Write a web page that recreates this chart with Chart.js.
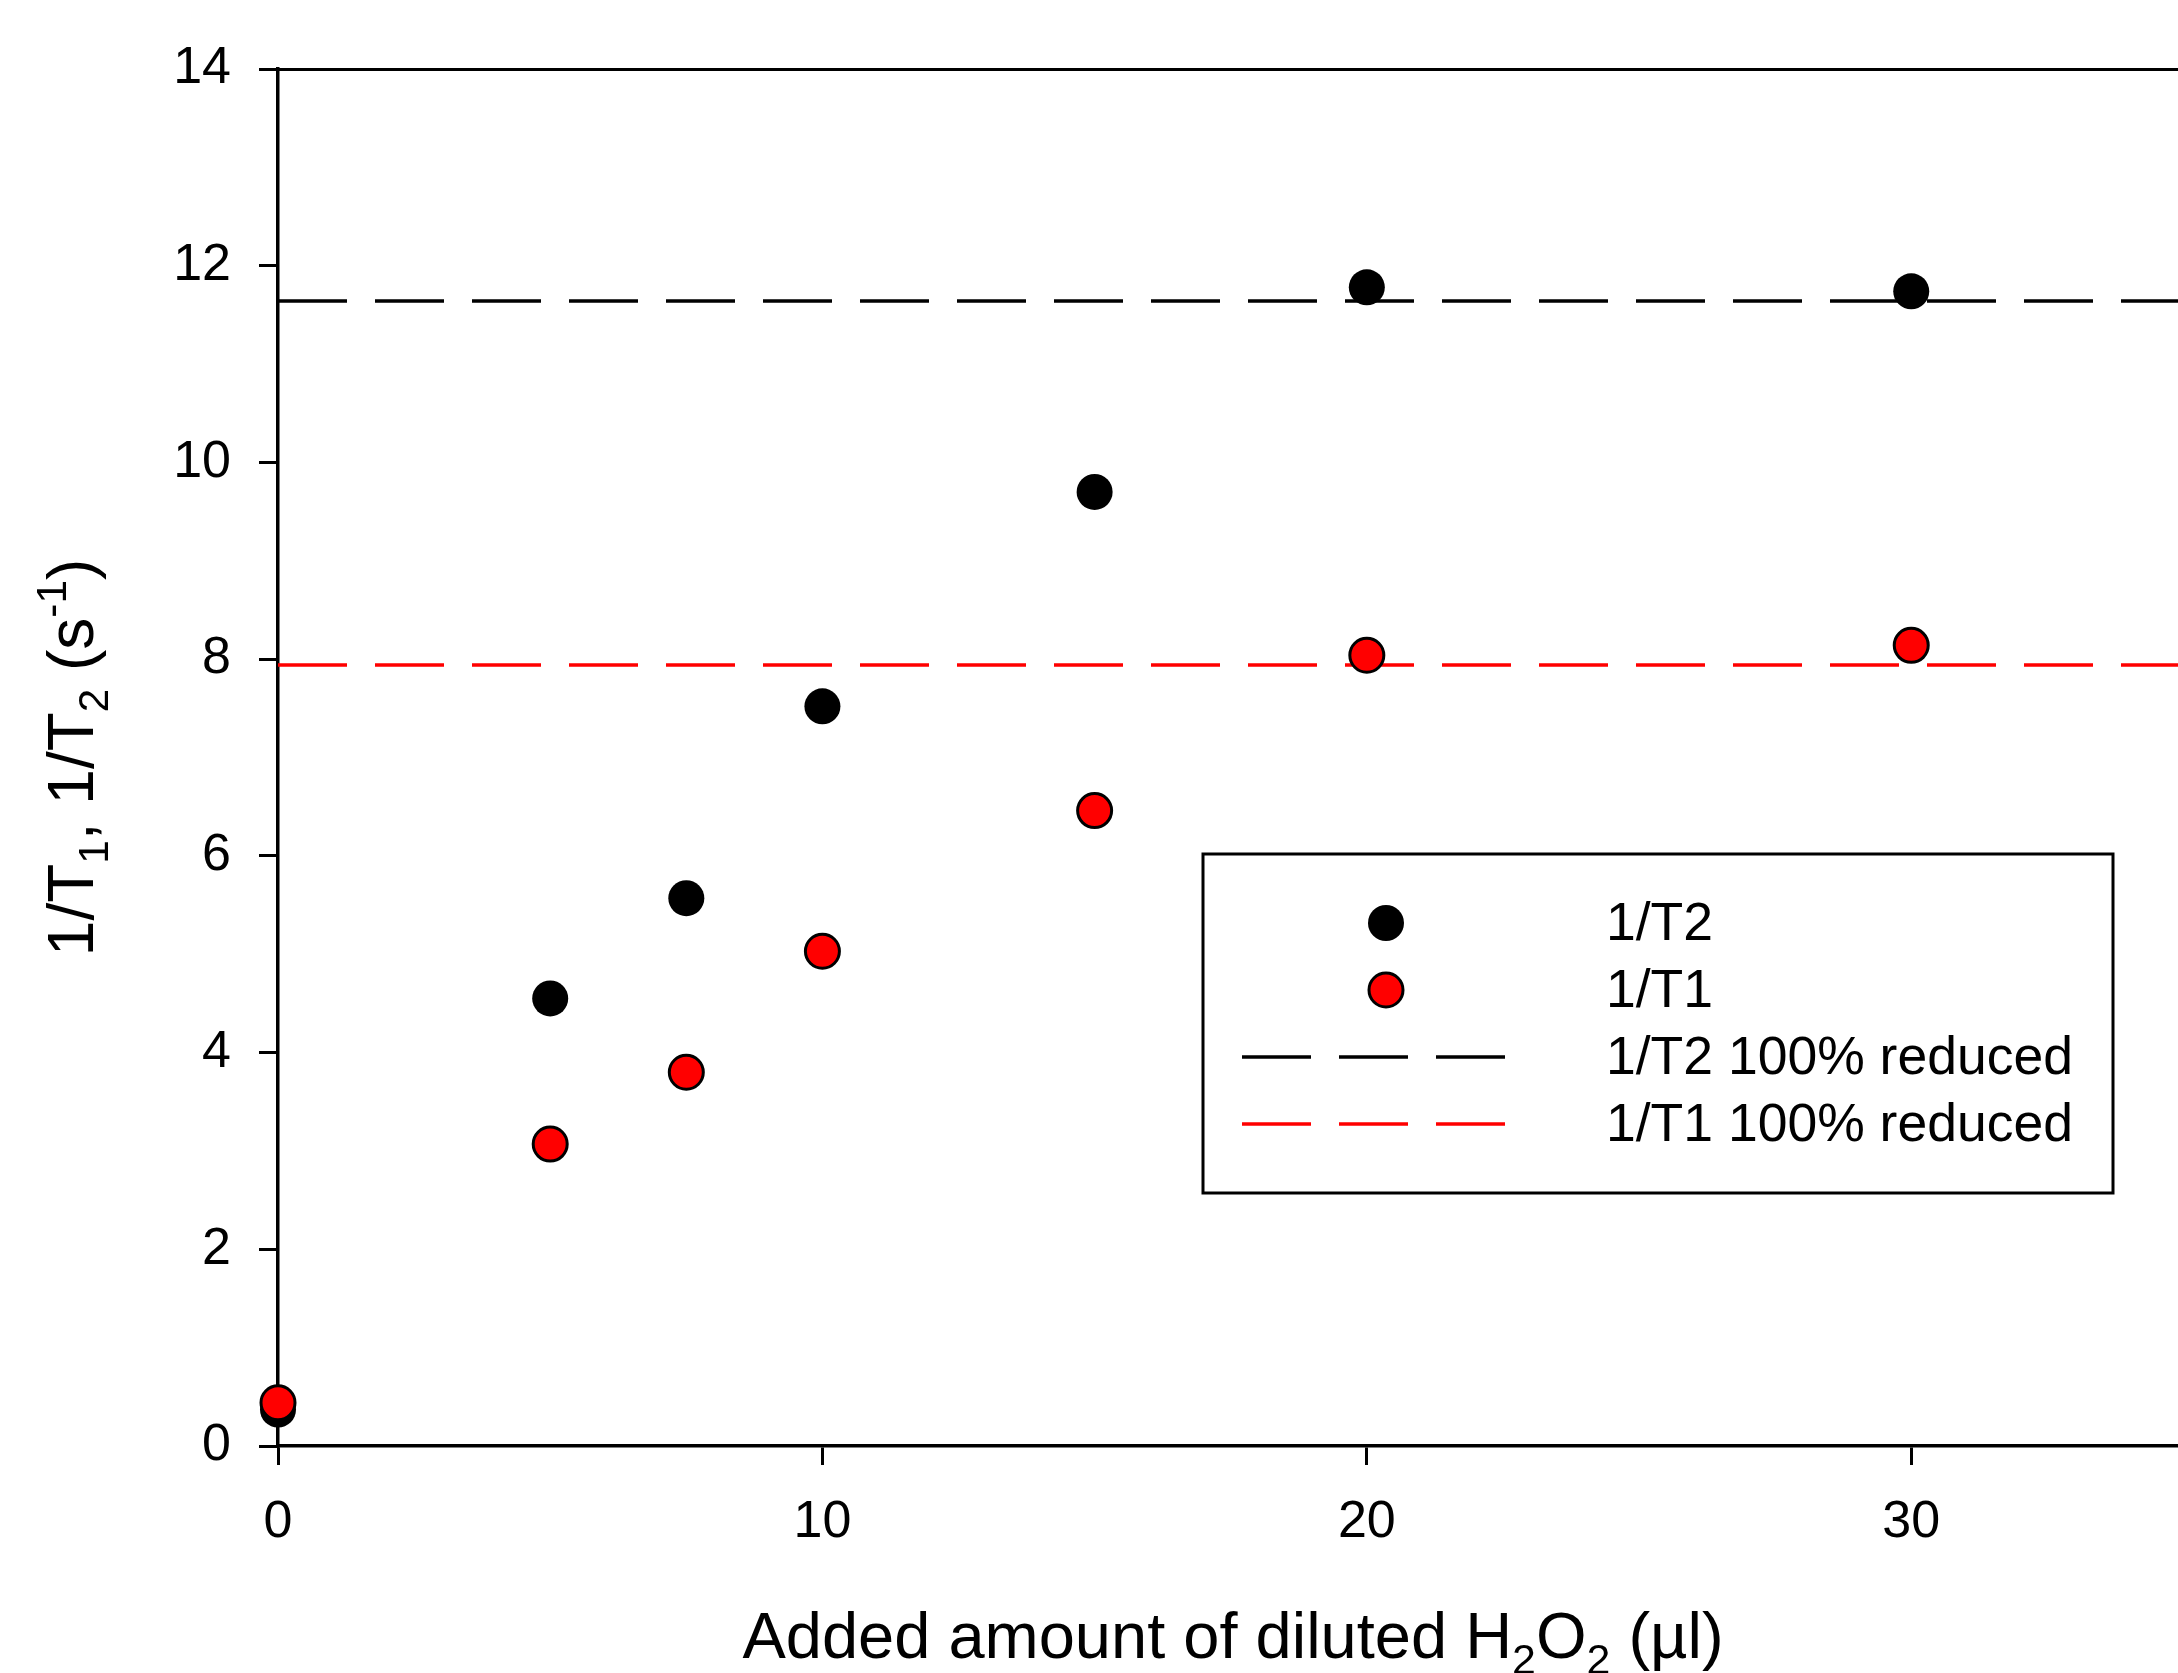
<!DOCTYPE html>
<html>
<head>
<meta charset="utf-8">
<script src="https://cdn.jsdelivr.net/npm/chart.js@4/dist/chart.umd.min.js"></script>
<style>
  html, body { margin: 0; padding: 0; background: #fff; }
  canvas { display: block; }
</style>
</head>
<body>
<canvas id="relaxChart" width="2178" height="1673"></canvas>
<script>
// values
const addedVolume = [0, 5, 7.5, 10, 15, 20, 30];
const invT2 = [0.37, 4.55, 5.57, 7.52, 9.70, 11.78, 11.74];
const invT1 = [0.44, 3.07, 3.80, 5.03, 6.46, 8.04, 8.14];
const reducedT2 = 11.64;
const reducedT1 = 7.94;
const xRange = [0, 34.9];   // the original figure is cut off just before 35
const yRange = [0, 14];
const xStep = 10;
const yStep = 2;

const FONT = '"Liberation Sans", Arial, Helvetica, sans-serif';
const RED = '#ff0000';

const pts = ys => addedVolume.map((x, i) => ({ x: x, y: ys[i] }));
const flat = v => xRange.map(x => ({ x: x, y: v }));

// draws text pieces with sub / superscripts, centred on x=0, baseline 0
function drawRich(ctx, parts, size) {
  let w = 0;
  parts.forEach(p => {
    ctx.font = (p.s ? size * 0.66 : size) + 'px ' + FONT;
    p.w = ctx.measureText(p.t).width;
    w += p.w;
  });
  let x = -w / 2;
  parts.forEach(p => {
    ctx.font = (p.s ? size * 0.66 : size) + 'px ' + FONT;
    const dy = p.s === 'sub' ? size * 0.24 : p.s === 'sup' ? -size * 0.42 : 0;
    ctx.fillText(p.t, x, dy);
    x += p.w;
  });
}

const axisTitles = {
  id: 'axisTitles',
  afterDraw(chart) {
    const { ctx, chartArea } = chart;
    ctx.save();
    ctx.fillStyle = '#000';
    ctx.textBaseline = 'alphabetic';
    ctx.textAlign = 'left';
    ctx.translate((chartArea.left + chartArea.right) / 2 + 5, 1658);
    drawRich(ctx, [
      { t: 'Added amount of diluted H' }, { t: '2', s: 'sub' },
      { t: 'O' }, { t: '2', s: 'sub' }, { t: ' (\u00b5l)' }
    ], 65);
    ctx.restore();

    ctx.save();
    ctx.fillStyle = '#000';
    ctx.textBaseline = 'alphabetic';
    ctx.textAlign = 'left';
    ctx.translate(93, (chartArea.top + chartArea.bottom) / 2);
    ctx.rotate(-Math.PI / 2);
    drawRich(ctx, [
      { t: '1/T' }, { t: '1', s: 'sub' }, { t: ', 1/T' }, { t: '2', s: 'sub' },
      { t: ' (s' }, { t: '-1', s: 'sup' }, { t: ')' }
    ], 64);
    ctx.restore();
  }
};

const boxLegend = {
  id: 'boxLegend',
  afterDraw(chart) {
    const ctx = chart.ctx;
    const box = { l: 1203, t: 854, r: 2113, b: 1193 };
    const symX = 1386, textX = 1606, row0 = 923, rowGap = 67;
    ctx.save();
    ctx.lineWidth = 3;
    ctx.strokeStyle = '#000';
    ctx.fillStyle = '#fff';
    ctx.fillRect(box.l, box.t, box.r - box.l, box.b - box.t);
    ctx.strokeRect(box.l, box.t, box.r - box.l, box.b - box.t);
    chart.data.datasets.forEach((ds, i) => {
      const y = row0 + i * rowGap;
      if (ds.type === 'line') {
        ctx.beginPath();
        ctx.setLineDash(ds.borderDash);
        ctx.lineWidth = ds.borderWidth;
        ctx.strokeStyle = ds.borderColor;
        ctx.moveTo(1242, y);
        ctx.lineTo(1505, y);
        ctx.stroke();
        ctx.setLineDash([]);
      } else {
        ctx.beginPath();
        ctx.arc(symX, y, ds.pointRadius, 0, Math.PI * 2);
        ctx.fillStyle = ds.backgroundColor;
        ctx.fill();
        if (ds.pointBorderWidth) {
          ctx.lineWidth = ds.pointBorderWidth;
          ctx.strokeStyle = ds.borderColor;
          ctx.stroke();
        }
      }
      ctx.fillStyle = '#000';
      ctx.font = '53.5px ' + FONT;
      ctx.textBaseline = 'middle';
      ctx.textAlign = 'left';
      ctx.fillText(ds.label, textX, y + 2);
    });
    ctx.restore();
  }
};

const tickGrid = { drawOnChartArea: false, drawTicks: true, tickLength: 19, color: '#000', tickColor: '#000', lineWidth: 3, tickWidth: 3 };
const tickFont = { family: FONT, size: 52 };

new Chart(document.getElementById('relaxChart').getContext('2d'), {
  type: 'scatter',
  data: {
    datasets: [
      { label: '1/T2', data: pts(invT2), backgroundColor: '#000', borderColor: '#000',
        pointRadius: 18, pointBorderWidth: 0, order: 1, clip: false },
      { label: '1/T1', data: pts(invT1), backgroundColor: RED, borderColor: '#000',
        pointRadius: 17, pointBorderWidth: 3, order: 0, clip: false },
      { type: 'line', label: '1/T2 100% reduced', data: flat(reducedT2), borderColor: '#000',
        borderWidth: 3.5, borderDash: [69, 28], pointRadius: 0, order: 3 },
      { type: 'line', label: '1/T1 100% reduced', data: flat(reducedT1), borderColor: RED,
        borderWidth: 3.5, borderDash: [69, 28], pointRadius: 0, order: 2 }
    ]
  },
  options: {
    responsive: false,
    animation: false,
    events: [],
    layout: { autoPadding: false, padding: { top: 69, left: 0, right: 0, bottom: 0 } },
    plugins: { legend: { display: false }, tooltip: { enabled: false } },
    scales: {
      x: {
        type: 'linear', position: 'bottom', min: xRange[0], max: xRange[1],
        ticks: { stepSize: xStep, includeBounds: false, color: '#000', font: tickFont, padding: 26 },
        grid: tickGrid,
        border: { display: true, color: '#000', width: 3.5 },
        afterFit: s => { s.height = 227; }
      },
      xTop: {
        type: 'linear', position: 'top', min: xRange[0], max: xRange[1],
        ticks: { display: false },
        grid: { display: false },
        border: { display: true, color: '#000', width: 3 },
        afterFit: s => { s.height = 0; }
      },
      y: {
        type: 'linear', position: 'left', min: yRange[0], max: yRange[1],
        ticks: { stepSize: yStep, color: '#000', font: tickFont, padding: 28 },
        grid: tickGrid,
        border: { display: true, color: '#000', width: 3.5 },
        afterFit: s => { s.width = 278; }
      }
    }
  },
  plugins: [axisTitles, boxLegend]
});
</script>
</body>
</html>
